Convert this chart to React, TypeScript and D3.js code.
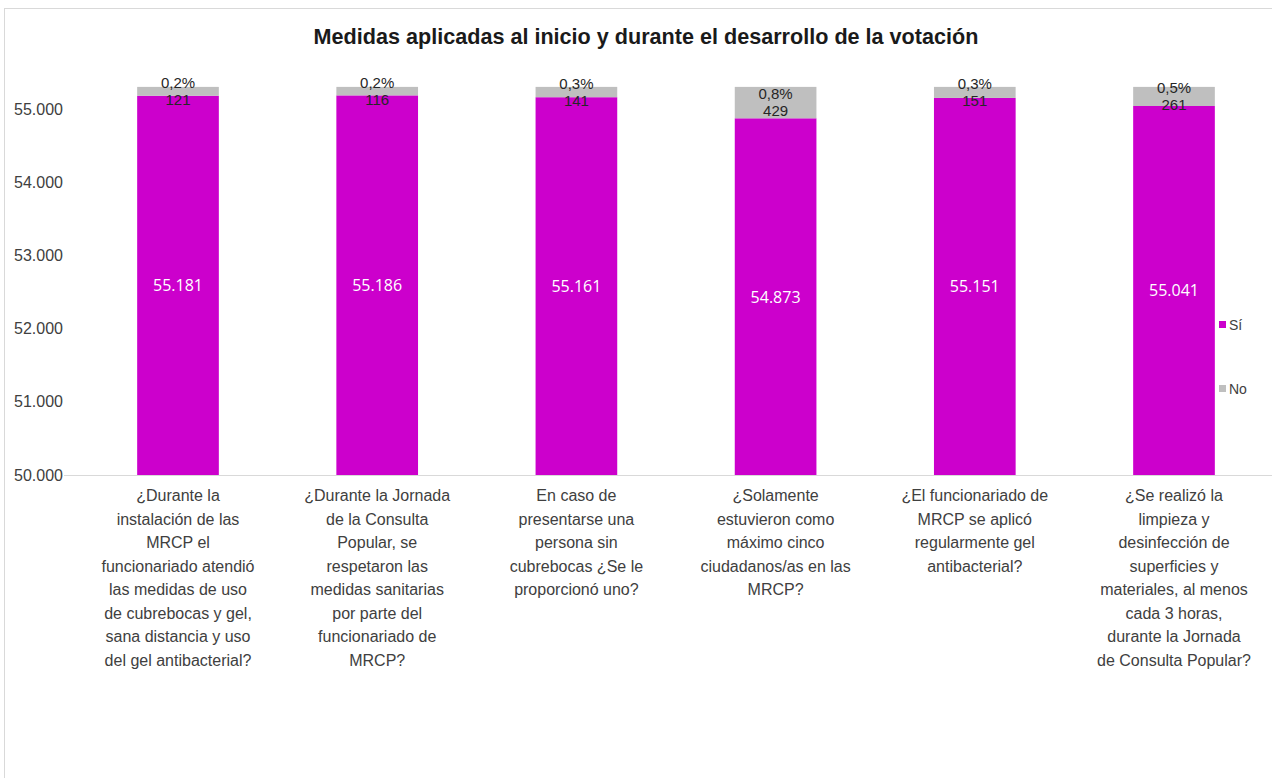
import React from "react";
import * as d3 from "d3";

const categories: string[][] = [
  ["¿Durante la", "instalación de las", "MRCP el", "funcionariado atendió", "las medidas de uso", "de cubrebocas y gel,", "sana distancia y uso", "del gel antibacterial?"],
  ["¿Durante la Jornada", "de la Consulta", "Popular, se", "respetaron las", "medidas sanitarias", "por parte del", "funcionariado de", "MRCP?"],
  ["En caso de", "presentarse una", "persona sin", "cubrebocas ¿Se le", "proporcionó uno?"],
  ["¿Solamente", "estuvieron como", "máximo cinco", "ciudadanos/as en las", "MRCP?"],
  ["¿El funcionariado de", "MRCP se aplicó", "regularmente gel", "antibacterial?"],
  ["¿Se realizó la", "limpieza y", "desinfección de", "superficies y", "materiales, al menos", "cada 3 horas,", "durante la Jornada", "de Consulta Popular?"],
];
const siValues = [55181, 55186, 55161, 54873, 55151, 55041];
const noValues = [121, 116, 141, 429, 151, 261];
const yTicks = [50000, 51000, 52000, 53000, 54000, 55000];
const seriesNames = ["Sí", "No"];
const title = "Medidas aplicadas al inicio y durante el desarrollo de la votación";

const MAGENTA = "#CC00CC";
const GRAY = "#BFBFBF";

const locale = d3.formatLocale({ decimal: ",", thousands: ".", grouping: [3], currency: ["$", ""] });
const fmtInt = locale.format(",d");
const fmtPct = locale.format(".1%");

export default function App() {
  const W = 1272, H = 778;
  const idx = categories.map((_, i) => String(i));
  const x = d3.scaleBand<string>().domain(idx).range([78.4, 1273.6]).paddingInner(0.59).paddingOuter(0.295);
  const y = d3.scaleLinear().domain([50000, 55500]).range([475, 475 - 5.5 * 73.2]);
  const bw = x.bandwidth();
  const font = "'Liberation Sans', Arial, sans-serif";

  return (
    <svg width={W} height={H} style={{ position: "absolute", left: 0, top: 0, background: "#fff" }}>
      <rect x={4.5} y={8.5} width={W + 20} height={H + 20} fill="#fff" stroke="#D9D9D9" strokeWidth={1} />
      <text x={646} y={44} textAnchor="middle" fontFamily={font} fontWeight="bold" fontSize={21.6} fill="#1a1a1a">
        {title}
      </text>
      {yTicks.map((t) => (
        <text key={t} x={63} y={y(t) + 5.5} textAnchor="end" fontFamily={font} fontSize={16} fill="#404040">
          {fmtInt(t)}
        </text>
      ))}
      <line x1={64} x2={W} y1={y(50000) + 0.5} y2={y(50000) + 0.5} stroke="#D9D9D9" strokeWidth={1} />
      {siValues.map((si, i) => {
        const no = noValues[i];
        const total = si + no;
        const bx = x(String(i))!;
        const cx = bx + bw / 2;
        const ySi = y(si);
        const yTot = y(total);
        const noMid = (ySi + yTot) / 2;
        return (
          <g key={i}>
            <rect x={bx} y={ySi} width={bw} height={y(50000) - ySi} fill={MAGENTA} />
            <rect x={bx} y={yTot} width={bw} height={ySi - yTot} fill={GRAY} />
            <text x={cx} y={(ySi + y(50000)) / 2 + 6} textAnchor="middle" fontFamily="'Open Sans', sans-serif" fontSize={16} fill="#fff">
              {fmtInt(si)}
            </text>
            <text x={cx} y={noMid - 8.5 + 5} textAnchor="middle" fontFamily={font} fontSize={15} fill="#262626">
              {fmtPct(no / total)}
            </text>
            <text x={cx} y={noMid + 8.5 + 5} textAnchor="middle" fontFamily={font} fontSize={15} fill="#262626">
              {fmtInt(no)}
            </text>
            {categories[i].map((line, j) => (
              <text key={j} x={cx} y={501 + j * 23.5} textAnchor="middle" fontFamily={font} fontSize={16} fill="#404040">
                {line}
              </text>
            ))}
          </g>
        );
      })}
      {seriesNames.map((s, k) => (
        <g key={s}>
          <rect x={1219} y={321 + k * 64} width={7} height={7} fill={k === 0 ? MAGENTA : GRAY} />
          <text x={1229} y={329.5 + k * 64} fontFamily={font} fontSize={14} fill="#404040">
            {s}
          </text>
        </g>
      ))}
    </svg>
  );
}
